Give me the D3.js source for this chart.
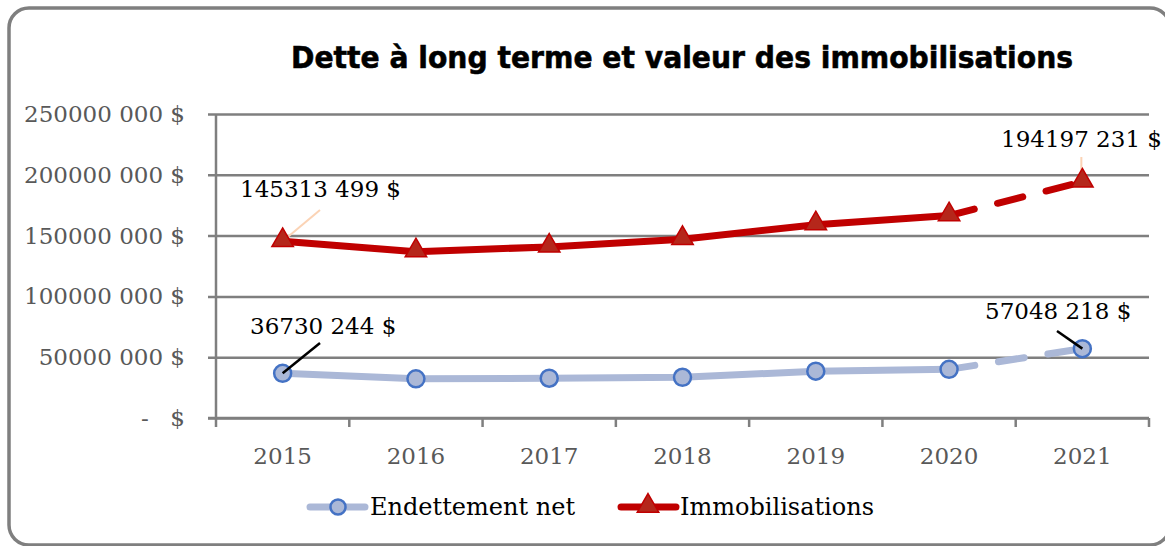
<!DOCTYPE html>
<html>
<head>
<meta charset="utf-8">
<script src="https://cdn.jsdelivr.net/npm/d3@7"></script>
<style>
  body { margin: 0; background: #fff; }
  svg text { font-family: "DejaVu Serif", serif; }
</style>
</head>
<body>
<svg id="chart" width="1165" height="546"></svg>
<script>
// data
var years = ["2015", "2016", "2017", "2018", "2019", "2020", "2021"];
var endettement = [36730244, 32200000, 32700000, 33500000, 38500000, 40000000, 57048218];
var immobilisations = [145313499, 136800000, 140700000, 147000000, 159000000, 166500000, 194197231];
var yTicks = [0, 50000000, 100000000, 150000000, 200000000, 250000000];
var yTickLabels = ["-", "50000 000 $", "100000 000 $", "150000 000 $", "200000 000 $", "250000 000 $"];
var seriesNames = ["Endettement net", "Immobilisations"];

var svg = d3.select("#chart");
var grey = "#7f7f7f";

// frame
svg.append("rect")
  .attr("x", 9).attr("y", 8)
  .attr("width", 1161).attr("height", 537)
  .attr("rx", 20).attr("ry", 20)
  .attr("fill", "#fff")
  .attr("stroke", grey)
  .attr("stroke-width", 3.5);

svg.append("text")
  .attr("x", 291).attr("y", 68)
  .attr("textLength", 782)
  .attr("lengthAdjust", "spacingAndGlyphs")
  .style("font-family", "'DejaVu Sans', sans-serif")
  .style("font-weight", "bold")
  .style("font-size", "31px")
  .attr("fill", "#000")
  .attr("stroke", "#000").attr("stroke-width", 0.6)
  .text("Dette à long terme et valeur des immobilisations");

var x = d3.scaleBand().domain(years).range([216, 1149]);
var y = d3.scaleLinear().domain([0, 250000000]).range([418, 114]);
var cx = function(d, i) { return x(years[i]) + x.bandwidth() / 2; };

// gridlines + y axis
var yAxis = d3.axisLeft(y).tickValues(yTicks).tickSize(-(1149 - 216)).tickFormat("");
var gy = svg.append("g").attr("transform", "translate(216,0)").call(yAxis);
gy.select(".domain").remove();
gy.selectAll(".tick line").attr("stroke", grey).attr("stroke-width", 2.5).attr("x1", -8);

svg.append("line")
  .attr("x1", 216).attr("x2", 216).attr("y1", 114).attr("y2", 418)
  .attr("stroke", grey).attr("stroke-width", 2.5);

yTicks.forEach(function(v, i) {
  if (v === 0) {
    svg.append("text").attr("x", 145).attr("y", y(v) + 8)
      .attr("text-anchor", "middle").attr("fill", "#595959").style("font-size", "23px").text("-");
    svg.append("text").attr("x", 185).attr("y", y(v) + 8)
      .attr("text-anchor", "end").attr("fill", "#595959").style("font-size", "23px").text("$");
  } else {
    svg.append("text").attr("x", 185).attr("y", y(v) + 8)
      .attr("text-anchor", "end").attr("fill", "#595959").style("font-size", "23px").text(yTickLabels[i]);
  }
});

// x axis
var xAxis = d3.axisBottom(x).tickSize(0).tickFormat("");
var gx = svg.append("g").attr("transform", "translate(0,418)").call(xAxis);
gx.select(".domain").attr("stroke", grey).attr("stroke-width", 2.5).attr("d", "M208,0H1149");
var bounds = years.map(function(d) { return x(d); }).concat([1149]);
gx.selectAll(".bound").data(bounds).enter().append("line")
  .attr("x1", function(d) { return d; }).attr("x2", function(d) { return d; })
  .attr("y1", 0).attr("y2", 9)
  .attr("stroke", grey).attr("stroke-width", 2.5);
svg.selectAll(".xlab").data(years).enter().append("text")
  .attr("x", function(d) { return x(d) + x.bandwidth() / 2; })
  .attr("y", 464)
  .attr("text-anchor", "middle")
  .attr("fill", "#595959")
  .style("font-size", "23px")
  .text(function(d) { return d; });

// lines (solid up to 2020, dashed 2020 -> 2021)
function drawSeries(vals, color, width) {
  var pts = vals.map(function(v, i) { return [cx(v, i), y(v)]; });
  var line = d3.line();
  svg.append("path").attr("d", line(pts.slice(0, 6)))
    .attr("fill", "none").attr("stroke", color).attr("stroke-width", width)
    .attr("stroke-linecap", "round").attr("stroke-linejoin", "round");
  svg.append("path").attr("d", line(pts.slice(5)))
    .attr("fill", "none").attr("stroke", color).attr("stroke-width", width)
    .attr("stroke-linecap", "round").attr("stroke-dasharray", "26,24");
  return pts;
}

var bluePts = drawSeries(endettement, "#abb8d7", 7);
var redPts = drawSeries(immobilisations, "#c00000", 7);

var tri = d3.symbol().type(d3.symbolTriangle).size(200);

// data label leaders (drawn under markers)
svg.append("line").attr("x1", 320).attr("y1", 210).attr("x2", redPts[0][0]).attr("y2", redPts[0][1])
  .attr("stroke", "#fbd3b5").attr("stroke-width", 2);
svg.append("line").attr("x1", redPts[6][0] - 1).attr("y1", 157).attr("x2", redPts[6][0] - 1).attr("y2", redPts[6][1])
  .attr("stroke", "#fbd3b5").attr("stroke-width", 2);

svg.selectAll(".circ").data(endettement).enter().append("circle")
  .attr("cx", cx).attr("cy", function(d) { return y(d); })
  .attr("r", 8.5)
  .attr("fill", "#abb8d7").attr("stroke", "#4472c4").attr("stroke-width", 2.5);

svg.selectAll(".tri").data(immobilisations).enter().append("path")
  .attr("d", tri)
  .attr("transform", function(d, i) { return "translate(" + cx(d, i) + "," + (y(d) - 1) + ")"; })
  .attr("fill", "#b5271b").attr("stroke", "#c00000").attr("stroke-width", 1.5);

svg.append("line").attr("x1", 320).attr("y1", 343).attr("x2", bluePts[0][0]).attr("y2", bluePts[0][1])
  .attr("stroke", "#000").attr("stroke-width", 2.5);
svg.append("line").attr("x1", 1057).attr("y1", 331).attr("x2", bluePts[6][0]).attr("y2", bluePts[6][1])
  .attr("stroke", "#000").attr("stroke-width", 2.5);

// data labels
var fmt = function(v) {
  var s = String(v);
  return s.slice(0, s.length - 3) + " " + s.slice(-3) + " $";
};
var labels = [
  { v: immobilisations[0], x: 240, y: 197 },
  { v: immobilisations[6], x: 1001, y: 147 },
  { v: endettement[0], x: 250, y: 334 },
  { v: endettement[6], x: 985, y: 319 }
];
svg.selectAll(".dl").data(labels).enter().append("text")
  .attr("x", function(d) { return d.x; })
  .attr("y", function(d) { return d.y; })
  .attr("fill", "#000")
  .style("font-size", "23px")
  .text(function(d) { return fmt(d.v); });

// legend
var lg = svg.append("g");
lg.append("line").attr("x1", 310).attr("x2", 365).attr("y1", 507).attr("y2", 507)
  .attr("stroke", "#abb8d7").attr("stroke-width", 7).attr("stroke-linecap", "round");
lg.append("circle").attr("cx", 338).attr("cy", 507).attr("r", 7.5)
  .attr("fill", "#abb8d7").attr("stroke", "#4472c4").attr("stroke-width", 2.5);
lg.append("text").attr("x", 370).attr("y", 515).style("font-size", "24px").attr("fill", "#000").text(seriesNames[0]);
lg.append("line").attr("x1", 621).attr("x2", 676).attr("y1", 507).attr("y2", 507)
  .attr("stroke", "#c00000").attr("stroke-width", 7).attr("stroke-linecap", "round");
lg.append("path").attr("d", tri).attr("transform", "translate(648,506)")
  .attr("fill", "#b5271b").attr("stroke", "#c00000").attr("stroke-width", 1.5);
lg.append("text").attr("x", 680).attr("y", 515).style("font-size", "24px").attr("fill", "#000").text(seriesNames[1]);
</script>
</body>
</html>
